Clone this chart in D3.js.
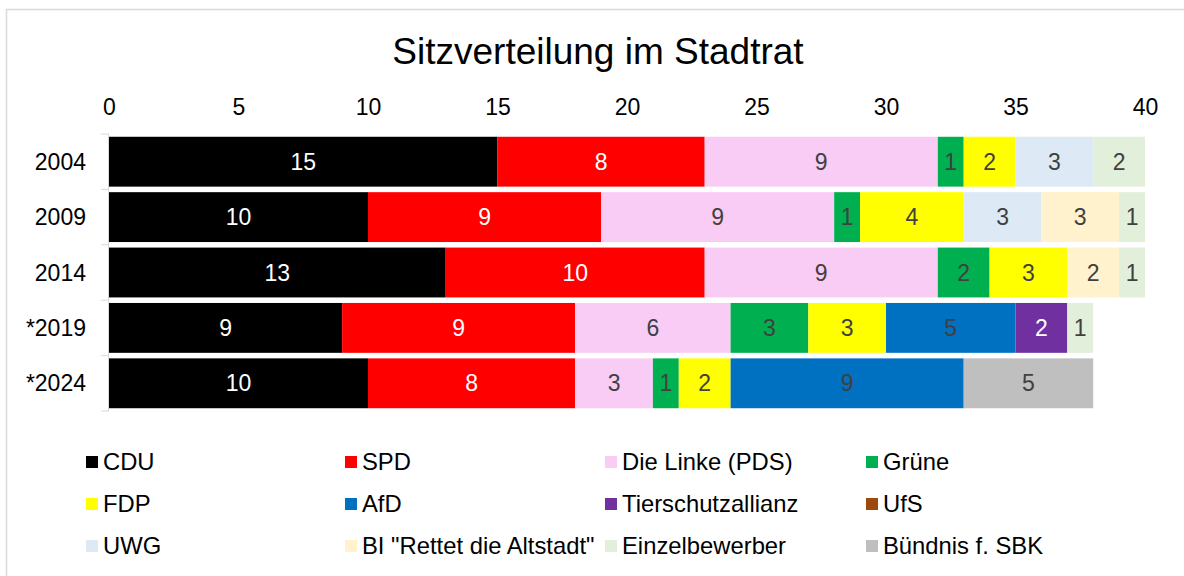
<!DOCTYPE html>
<html>
<head>
<meta charset="utf-8">
<title>Sitzverteilung im Stadtrat</title>
<script src="https://cdn.jsdelivr.net/npm/d3@7"></script>
<style>
  body { margin: 0; background: #fff; }
  svg { font-family: "Liberation Sans", Arial, sans-serif; }
</style>
</head>
<body>
<svg id="chart" width="1184" height="576"></svg>
<script>
// Jahre (Wahlen) und Sitze je Partei
const years = ["2004", "2009", "2014", "*2019", "*2024"];
const parties = ["CDU", "SPD", "Die Linke (PDS)", "Grüne", "FDP", "AfD", "Tierschutzallianz", "UfS",
                 "UWG", "BI \"Rettet die Altstadt\"", "Einzelbewerber", "Bündnis f. SBK"];
const colors = ["#000000", "#ff0000", "#f9ccf5", "#00b050", "#ffff00", "#0070c0", "#7030a0", "#9c4a0c",
                "#dde9f5", "#fff2cc", "#e2efda", "#bfbfbf"];

const cdu        = [15, 10, 13, 9, 10];
const spd        = [8, 9, 10, 9, 8];
const linke      = [9, 9, 9, 6, 3];
const gruene     = [1, 1, 2, 3, 1];
const fdp        = [2, 4, 3, 3, 2];
const afd        = [0, 0, 0, 5, 9];
const tierschutz = [0, 0, 0, 2, 0];
const ufs        = [0, 0, 0, 0, 0];
const uwg        = [3, 3, 0, 0, 0];
const bi         = [0, 3, 2, 0, 0];
const einzel     = [2, 1, 1, 1, 0];
const sbk        = [0, 0, 0, 0, 5];

const seats = [cdu, spd, linke, gruene, fdp, afd, tierschutz, ufs, uwg, bi, einzel, sbk];
const xTicks = [0, 5, 10, 15, 20, 25, 30, 35, 40];

// tabelle fuer d3.stack
const rows = years.map((yr, i) => {
  const r = { year: yr };
  parties.forEach((p, j) => r[p] = seats[j][i]);
  return r;
});

const svg = d3.select("#chart");

// rahmen
svg.append("rect")
  .attr("x", 6.5).attr("y", 9.5)
  .attr("width", 1200).attr("height", 600)
  .attr("fill", "#fff").attr("stroke", "#d9d9d9").attr("stroke-width", 1.5);

svg.append("text")
  .attr("x", 598).attr("y", 64)
  .attr("text-anchor", "middle")
  .attr("font-size", 37)
  .attr("fill", "#000")
  .text("Sitzverteilung im Stadtrat");

const x = d3.scaleLinear([0, 40], [109, 1145]);
const y = d3.scaleBand(years, [134, 411]).paddingInner(0.1).paddingOuter(0.05);
const color = d3.scaleOrdinal(parties, colors);

// obere achse, nur beschriftung
const xAxis = svg.append("g")
  .attr("transform", "translate(0,115)")
  .call(d3.axisTop(x).tickValues(xTicks).tickSize(0).tickPadding(0));
xAxis.select(".domain").remove();
xAxis.selectAll("text").attr("font-size", 23).attr("fill", "#000")
  .attr("font-family", "Liberation Sans, Arial, sans-serif");

// linke achse: linie + ticks zwischen den kategorien
const yAxis = svg.append("g");
yAxis.append("line")
  .attr("x1", x(0) - 0.5).attr("x2", x(0) - 0.5)
  .attr("y1", y.range()[0]).attr("y2", y.range()[1])
  .attr("stroke", "#d9d9d9");
yAxis.selectAll("line.tick")
  .data(d3.range(years.length + 1))
  .join("line")
  .attr("class", "tick")
  .attr("x1", x(0) - 8).attr("x2", x(0))
  .attr("y1", i => y.range()[0] + i * y.step())
  .attr("y2", i => y.range()[0] + i * y.step())
  .attr("stroke", "#d9d9d9");
yAxis.selectAll("text")
  .data(years)
  .join("text")
  .attr("x", 86)
  .attr("y", d => y(d) + y.bandwidth() / 2)
  .attr("dy", "0.35em")
  .attr("text-anchor", "end")
  .attr("font-size", 23)
  .attr("fill", "#000")
  .text(d => d);

// gestapelte balken
const series = d3.stack().keys(parties)(rows);
const dark = new Set(["CDU", "SPD", "Tierschutzallianz", "UfS"]);

const groups = svg.append("g").selectAll("g")
  .data(series)
  .join("g")
  .attr("fill", s => color(s.key));

groups.selectAll("rect")
  .data(s => s.filter(d => d[1] > d[0]))
  .join("rect")
  .attr("x", d => x(d[0]))
  .attr("y", d => y(d.data.year))
  .attr("width", d => x(d[1]) - x(d[0]))
  .attr("height", y.bandwidth());

groups.selectAll("text")
  .data(s => s.filter(d => d[1] > d[0]).map(d => ({ d, key: s.key })))
  .join("text")
  .attr("x", e => (x(e.d[0]) + x(e.d[1])) / 2)
  .attr("y", e => y(e.d.data.year) + y.bandwidth() / 2)
  .attr("dy", "0.35em")
  .attr("text-anchor", "middle")
  .attr("font-size", 23)
  .attr("fill", e => dark.has(e.key) ? "#fff" : "#404040")
  .text(e => e.d[1] - e.d[0]);

// legende 4 spalten x 3 zeilen
const legX = [86, 345, 605, 866];
const legY = [462, 504, 546];
const leg = svg.append("g").selectAll("g")
  .data(parties)
  .join("g")
  .attr("transform", (p, i) => `translate(${legX[i % 4]},${legY[Math.floor(i / 4)]})`);
leg.append("rect")
  .attr("x", 0).attr("y", -6)
  .attr("width", 12).attr("height", 12)
  .attr("fill", p => color(p));
leg.append("text")
  .attr("x", 17).attr("y", 0)
  .attr("dy", "0.35em")
  .attr("font-size", 23.8)
  .attr("fill", "#000")
  .text(p => p);
</script>
</body>
</html>
